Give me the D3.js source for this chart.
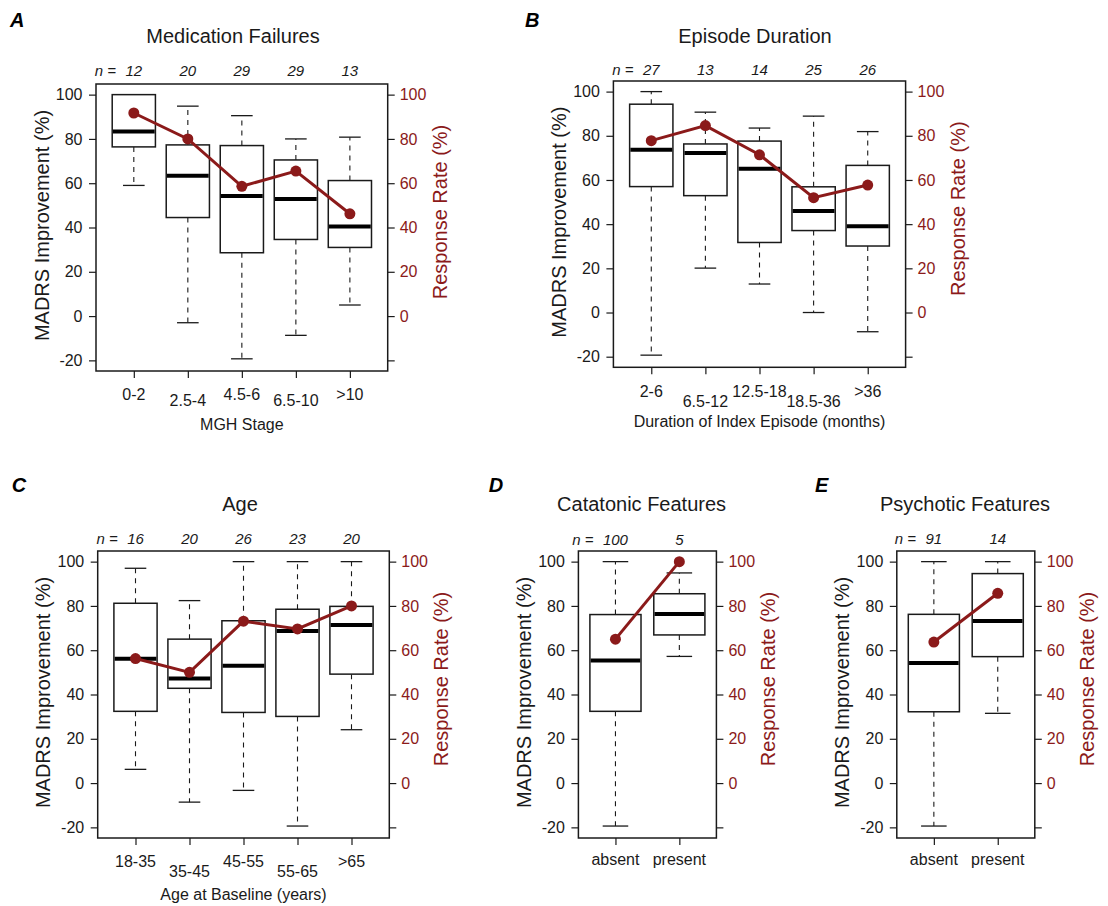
<!DOCTYPE html>
<html>
<head>
<meta charset="utf-8">
<script src="https://cdn.jsdelivr.net/npm/d3@7"></script>
<style>
  html, body { margin: 0; padding: 0; background: #fff; }
  svg { display: block; font-family: "Liberation Sans", Arial, sans-serif; }
</style>
</head>
<body>
<svg id="chart" width="1108" height="906"></svg>
<script>
// ---------------- DATA ----------------
const yTickValues = [-20, 0, 20, 40, 60, 80, 100];
const leftTickLabels = ["-20", "0", "20", "40", "60", "80", "100"];
const rightTickLabels = ["", "0", "20", "40", "60", "80", "100"];

// Panel A: Medication Failures
const catsA = ["0-2", "2.5-4", "4.5-6", "6.5-10", ">10"];
const nA    = [12, 20, 29, 29, 13];
const loA   = [59, -3, -19.3, -8.7, 5];
const q1A   = [76.4, 44.5, 28.6, 34.6, 31];
const medA  = [83.3, 63.4, 54.2, 52.9, 40.4];
const q3A   = [100, 77.3, 77, 70.5, 61.2];
const hiA   = [100, 94.8, 90.5, 80, 80.8];
const respA = [91.7, 80, 58.6, 65.5, 46.2];

// Panel B: Episode Duration
const catsB = ["2-6", "6.5-12", "12.5-18", "18.5-36", ">36"];
const nB    = [27, 13, 14, 25, 26];
const loB   = [-19.3, 20.1, 12.9, 0, -8.7];
const q1B   = [57, 52.9, 31.7, 37.1, 30.1];
const medB  = [73.7, 72.2, 65.1, 45.9, 39.1];
const q3B   = [94.3, 76.3, 77.6, 56.9, 66.6];
const hiB   = [100, 90.7, 83.5, 88.9, 81.9];
const respB = [77.8, 84.6, 71.4, 52, 57.7];

// Panel C: Age
const catsC = ["18-35", "35-45", "45-55", "55-65", ">65"];
const nC    = [16, 20, 26, 23, 20];
const loC   = [6.2, -8.6, -3.3, -19.4, 24.1];
const q1C   = [32.4, 42.8, 31.9, 30.1, 49.2];
const medC  = [56.2, 47.2, 53, 68.7, 71.4];
const q3C   = [81.2, 65, 73.3, 78.5, 79.8];
const hiC   = [97, 82.4, 100, 100, 100];
const respC = [56.25, 50, 73.1, 69.6, 80];

// Panel D: Catatonic Features
const catsD = ["absent", "present"];
const nD    = [100, 5];
const loD   = [-19.4, 57.2];
const q1D   = [32.4, 66.9];
const medD  = [55.4, 76.3];
const q3D   = [76.1, 85.5];
const hiD   = [100, 94.9];
const respD = [65, 100];

// Panel E: Psychotic Features
const catsE = ["absent", "present"];
const nE    = [91, 14];
const loE   = [-19.4, 31.5];
const q1E   = [32.2, 57.1];
const medE  = [54.2, 73.2];
const q3E   = [76.2, 94.6];
const hiE   = [100, 100];
const respE = [63.7, 85.7];

// ---------------- LAYOUT ----------------
const RED = "#8b1a1a";
const INK = "#1a1a1a";

const panels = [
  { letter: "A", title: "Medication Failures", xlab: "MGH Stage",
    cats: catsA, n: nA, lo: loA, q1: q1A, med: medA, q3: q3A, hi: hiA, resp: respA,
    frame: {l: 96, r: 387.7, t: 84, b: 371}, titleX: 233, titleY: 42.5,
    letterX: 10, letterY: 27.3, nY: 76, labY: [400, 405.7], xlabY: 430 },
  { letter: "B", title: "Episode Duration", xlab: "Duration of Index Episode (months)",
    cats: catsB, n: nB, lo: loB, q1: q1B, med: medB, q3: q3B, hi: hiB, resp: respB,
    frame: {l: 613.4, r: 905.6, t: 81, b: 367.3}, titleX: 755, titleY: 42.5,
    letterX: 525, letterY: 27, nY: 75, labY: [396.7, 406.7], xlabY: 426.5 },
  { letter: "C", title: "Age", xlab: "Age at Baseline (years)",
    cats: catsC, n: nC, lo: loC, q1: q1C, med: medC, q3: q3C, hi: hiC, resp: respC,
    frame: {l: 97.7, r: 389.3, t: 551, b: 838}, titleX: 240, titleY: 510.5,
    letterX: 11.7, letterY: 491.7, nY: 544, labY: [867.3, 877.3], xlabY: 899.5 },
  { letter: "D", title: "Catatonic Features", xlab: null,
    cats: catsD, n: nD, lo: loD, q1: q1D, med: medD, q3: q3D, hi: hiD, resp: respD,
    frame: {l: 578.4, r: 716.4, t: 551, b: 838}, titleX: 641.6, titleY: 511,
    letterX: 488.8, letterY: 491.7, nY: 545, labY: [865, 865], xlabY: null },
  { letter: "E", title: "Psychotic Features", xlab: null,
    cats: catsE, n: nE, lo: loE, q1: q1E, med: medE, q3: q3E, hi: hiE, resp: respE,
    frame: {l: 896.8, r: 1034.8, t: 551, b: 838}, titleX: 965, titleY: 511,
    letterX: 815, letterY: 491.7, nY: 544, labY: [865, 865], xlabY: null }
];

const svg = d3.select("#chart");

function drawPanel(p) {
  const g = svg.append("g");
  const k = p.cats.length;
  const f = p.frame;
  const x = d3.scaleLinear()
    .domain([0.5 - 0.04 * k, k + 0.5 + 0.04 * k])
    .range([f.l, f.r]);
  const y = d3.scaleLinear().domain([-24.8, 104.8]).range([f.b, f.t]);
  const unit = x(2) - x(1);
  const bw = 0.8 * unit;
  const cap = 0.5 * bw;

  const rows = p.cats.map((c, i) => ({
    i, pos: i + 1, cat: c, n: p.n[i], lo: p.lo[i], q1: p.q1[i], med: p.med[i],
    q3: p.q3[i], hi: p.hi[i], resp: p.resp[i]
  }));

  // Left axis
  const left = g.append("g").attr("transform", `translate(${f.l},0)`)
    .call(d3.axisLeft(y).tickValues(yTickValues).tickSize(7).tickPadding(6.5)
      .tickFormat((d, i) => leftTickLabels[i]));
  left.select(".domain").remove();
  left.selectAll("line").attr("stroke", INK).attr("stroke-width", 1.2);
  left.selectAll("text").attr("fill", INK).style("font-size", "16px");

  // Right axis
  const right = g.append("g").attr("transform", `translate(${f.r},0)`)
    .call(d3.axisRight(y).tickValues(yTickValues).tickSize(7).tickPadding(5)
      .tickFormat((d, i) => rightTickLabels[i]));
  right.select(".domain").remove();
  right.selectAll("line").attr("stroke", INK).attr("stroke-width", 1.2);
  right.selectAll("text").attr("fill", RED).style("font-size", "16px");

  // Bottom ticks
  const bottom = g.append("g").attr("transform", `translate(0,${f.b})`)
    .call(d3.axisBottom(x).tickValues(rows.map(r => r.pos)).tickSize(7).tickFormat(""));
  bottom.select(".domain").remove();
  bottom.selectAll("line").attr("stroke", INK).attr("stroke-width", 1.2);

  // Category labels (staggered)
  g.selectAll(".catlab").data(rows).enter().append("text")
    .attr("x", d => x(d.pos))
    .attr("y", d => p.labY[d.i % 2])
    .attr("text-anchor", "middle")
    .attr("fill", INK).style("font-size", "16px")
    .text(d => d.cat);

  // Whiskers (dashed)
  const wg = g.append("g");
  wg.selectAll(".wu").data(rows).enter().append("line")
    .attr("x1", d => x(d.pos)).attr("x2", d => x(d.pos))
    .attr("y1", d => y(d.q3)).attr("y2", d => y(d.hi))
    .attr("stroke", INK).attr("stroke-width", 1.1).attr("stroke-dasharray", "5,5");
  wg.selectAll(".wl").data(rows).enter().append("line")
    .attr("x1", d => x(d.pos)).attr("x2", d => x(d.pos))
    .attr("y1", d => y(d.q1)).attr("y2", d => y(d.lo))
    .attr("stroke", INK).attr("stroke-width", 1.1).attr("stroke-dasharray", "5,5");
  // Caps
  wg.selectAll(".cu").data(rows).enter().append("line")
    .attr("x1", d => x(d.pos) - cap / 2).attr("x2", d => x(d.pos) + cap / 2)
    .attr("y1", d => y(d.hi)).attr("y2", d => y(d.hi))
    .attr("stroke", INK).attr("stroke-width", 1.3);
  wg.selectAll(".cl").data(rows).enter().append("line")
    .attr("x1", d => x(d.pos) - cap / 2).attr("x2", d => x(d.pos) + cap / 2)
    .attr("y1", d => y(d.lo)).attr("y2", d => y(d.lo))
    .attr("stroke", INK).attr("stroke-width", 1.3);

  // Boxes
  g.selectAll(".box").data(rows).enter().append("rect")
    .attr("x", d => x(d.pos) - bw / 2).attr("width", bw)
    .attr("y", d => y(d.q3)).attr("height", d => y(d.q1) - y(d.q3))
    .attr("fill", "#fff").attr("stroke", INK).attr("stroke-width", 1.5);
  g.selectAll(".med").data(rows).enter().append("line")
    .attr("x1", d => x(d.pos) - bw / 2 + 0.75).attr("x2", d => x(d.pos) + bw / 2 - 0.75)
    .attr("y1", d => y(d.med)).attr("y2", d => y(d.med))
    .attr("stroke", "#000").attr("stroke-width", 4);

  // Frame
  g.append("rect").attr("x", f.l).attr("y", f.t)
    .attr("width", f.r - f.l).attr("height", f.b - f.t)
    .attr("fill", "none").attr("stroke", INK).attr("stroke-width", 1.5);

  // Response rate line + points
  const line = d3.line().x(d => x(d.pos)).y(d => y(d.resp));
  g.append("path").datum(rows).attr("d", line)
    .attr("fill", "none").attr("stroke", RED).attr("stroke-width", 3);
  g.selectAll(".pt").data(rows).enter().append("circle")
    .attr("cx", d => x(d.pos)).attr("cy", d => y(d.resp)).attr("r", 5.5)
    .attr("fill", RED);

  // n labels
  const nl = g.selectAll(".nlab").data(rows).enter().append("text")
    .attr("x", d => x(d.pos)).attr("y", p.nY)
    .attr("text-anchor", "middle").attr("fill", INK)
    .style("font-size", "15px").style("font-style", "italic")
    .text(d => d.n);
  const firstW = nl.node().getComputedTextLength();
  g.append("text")
    .attr("x", x(1) - firstW / 2 - 9.5).attr("y", p.nY)
    .attr("text-anchor", "end").attr("fill", INK)
    .style("font-size", "15px").style("font-style", "italic")
    .text("n =");

  // Title
  g.append("text").attr("x", p.titleX).attr("y", p.titleY)
    .attr("text-anchor", "middle").attr("fill", INK).style("font-size", "20px")
    .text(p.title);

  // Panel letter
  g.append("text").attr("x", p.letterX).attr("y", p.letterY)
    .attr("fill", "#000").style("font-size", "20px")
    .style("font-weight", "bold").style("font-style", "italic")
    .text(p.letter);

  // Axis titles
  const midY = (f.t + f.b) / 2 - 2;
  g.append("text")
    .attr("transform", `translate(${f.l - 54.5},${midY}) rotate(-90)`)
    .attr("text-anchor", "middle").attr("dominant-baseline", "central")
    .attr("fill", INK).style("font-size", "20px")
    .text("MADRS Improvement (%)");
  g.append("text")
    .attr("transform", `translate(${f.r + 52},${y(47)}) rotate(-90)`)
    .attr("text-anchor", "middle").attr("dominant-baseline", "central")
    .attr("fill", RED).style("font-size", "20px")
    .text("Response Rate (%)");
  if (p.xlab) {
    g.append("text").attr("x", (f.l + f.r) / 2).attr("y", p.xlabY)
      .attr("text-anchor", "middle").attr("fill", INK).style("font-size", "16px")
      .text(p.xlab);
  }
}

panels.forEach(drawPanel);
</script>
</body>
</html>
